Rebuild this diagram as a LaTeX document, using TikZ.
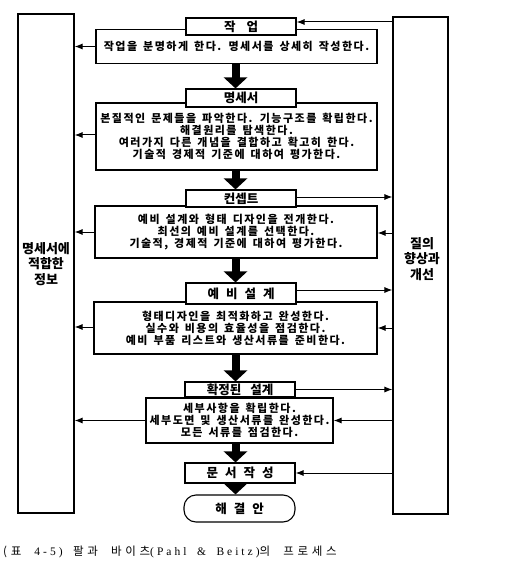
\documentclass[tikz,border=0pt]{standalone}
\usepackage{fontspec}
\setmainfont{Noto Sans CJK KR}
\newfontfamily\descfont{Noto Sans CJK KR}[LetterSpace=13.5,WordSpace=1.5]
\newfontfamily\titlefont{Noto Sans CJK KR}
\newfontfamily\capk{Noto Sans CJK KR}[LetterSpace=32,WordSpace=2.1]
\newfontfamily\capl{Liberation Serif}[LetterSpace=26,WordSpace=1.8]
\usetikzlibrary{arrows.meta}
\newcommand\gp[1]{\hspace{#1pt}}
\tikzset{
  bigbox/.style={draw, line width=1.1pt, fill=white, inner sep=0pt},
  descbox/.style={draw, line width=1.1pt, fill=white, inner sep=0pt, align=center,
    font=\descfont\bfseries\fontsize{11}{12}\selectfont},
  titlebox/.style={draw, line width=1.1pt, fill=white, inner sep=0pt, minimum width=110pt,
    font=\titlefont\bfseries\fontsize{12.5}{13}\selectfont},
  sidelabel/.style={align=center, font=\titlefont\bfseries\fontsize{13}{15.5}\selectfont},
  thinarrow/.style={line width=1pt, -{Latex[length=8pt,width=6pt]}},
  thickarrow/.style={line width=8pt, -{Triangle[length=11pt,width=23pt]}},
}
\begin{document}
\begin{tikzpicture}[x=1pt,y=-1pt]
\useasboundingbox[fill=white] (0,0) rectangle (512,572);
% side boxes
\node[bigbox, minimum width=56pt, minimum height=499pt] (l) at (46,263.5) {};
\node[bigbox, minimum width=55pt, minimum height=497pt] (r) at (420.5,265.5) {};
\node[sidelabel] (ll) at (46,264) {명세서에\\적합한\\정보};
\node[sidelabel] (rl) at (422,259) {질의\\향상과\\개선};
% description boxes
\node[descbox, minimum width=281pt, minimum height=34pt] (d1) at (236.5,46.5)
  {작업을 분명하게 한다. 명세서를 상세히 작성한다.};
\node[descbox, minimum width=281pt, minimum height=67pt] (d2) at (236.5,136.5)
  {본질적인 문제들을 파악한다. 기능구조를 확립한다.\\해결원리를 탐색한다.\\여러가지 다른 개념을 결합하고 확고히 한다.\\기술적 경제적 기준에 대하여 평가한다.};
\node[descbox, minimum width=282pt, minimum height=52pt] (d3) at (236,232)
  {예비 설계와 형태 디자인을 전개한다.\\최선의 예비 설계를 선택한다.\\기술적, 경제적 기준에 대하여 평가한다.};
\node[descbox, minimum width=283pt, minimum height=52pt] (d4) at (235.5,328)
  {형태디자인을 최적화하고 완성한다.\\실수와 비용의 효율성을 점검한다.\\예비 부품 리스트와 생산서류를 준비한다.};
\node[descbox, minimum width=187pt, minimum height=45pt] (d5) at (239.5,420.5)
  {세부사항을 확립한다.\\세부도면 및 생산서류를 완성한다.\\모든 서류를 점검한다.};
% title boxes
\node[titlebox, minimum height=17pt] (t1) at (241,26.5) {작\gp{11}업};
\node[titlebox, minimum height=18pt] (t2) at (241,98) {명세서};
\node[titlebox, minimum height=17pt] (t3) at (241,198.5) {컨셉트};
\node[titlebox, minimum height=21pt] (t4) at (241,293.5) {예\gp{7}비\gp{7}설\gp{7}계};
\node[titlebox, minimum height=15pt] (t5) at (240,389.5) {확정된\gp{9}설계};
\node[titlebox, minimum height=20pt] (t6) at (240,473) {문\gp{7}서\gp{7}작\gp{7}성};
\node[titlebox, minimum width=111pt, minimum height=27pt, rounded corners=12pt] (e) at (239.5,508.5) {해\gp{7}결\gp{7}안};
% thick arrows
\coordinate (ax) at (235.5,0);
\draw[thickarrow] (d1.south -| ax) -- (t2.north -| ax);
\draw[thickarrow] (d2.south -| ax) -- (t3.north -| ax);
\draw[thickarrow] (d3.south -| ax) -- (t4.north -| ax);
\draw[thickarrow] (d4.south -| ax) -- (t5.north -| ax);
\draw[thickarrow] (d5.south -| ax) -- (t6.north -| ax);
\draw[thickarrow] (t6.south -| ax) -- (e.north -| ax);
% thin arrows
\coordinate (y22) at (0,22);
\coordinate (y197) at (0,197);
\coordinate (y232) at (0,232);
\coordinate (y233) at (0,233);
\coordinate (y290) at (0,290);
\coordinate (y327) at (0,327);
\coordinate (y328) at (0,328);
\coordinate (y135) at (0,135);
\draw[thinarrow] (r.west |- y22) -- (t1.east |- y22);
\draw[thinarrow] (d1.west) -- (l.east |- d1.west);
\draw[thinarrow] (d2.west |- y135) -- (l.east |- y135);
\draw[thinarrow] (t3.east |- y197) -- (r.west |- y197);
\draw[thinarrow] (d3.west |- y232) -- (l.east |- y232);
\draw[thinarrow] (r.west |- y233) -- (d3.east |- y233);
\draw[thinarrow] (t4.east |- y290) -- (r.west |- y290);
\draw[thinarrow] (d4.west |- y327) -- (l.east |- y327);
\draw[thinarrow] (r.west |- y328) -- (d4.east |- y328);
\draw[thinarrow] (t5.east) -- (r.west |- t5.east);
\draw[thinarrow] (d5.west) -- (l.east |- d5.west);
\draw[thinarrow] (r.west |- d5.east) -- (d5.east);
\draw[thinarrow] (r.west |- t6.east) -- (t6.east);
% caption
\node[anchor=west, inner sep=0pt] (cap) at (3,552)
  {\fontsize{11.5}{13}\selectfont\capk (표 \capl 4-5) \capk 팔과 바이츠\capl (Pahl \& Beitz)\capk 의 프로세스};
\end{tikzpicture}
\end{document}
